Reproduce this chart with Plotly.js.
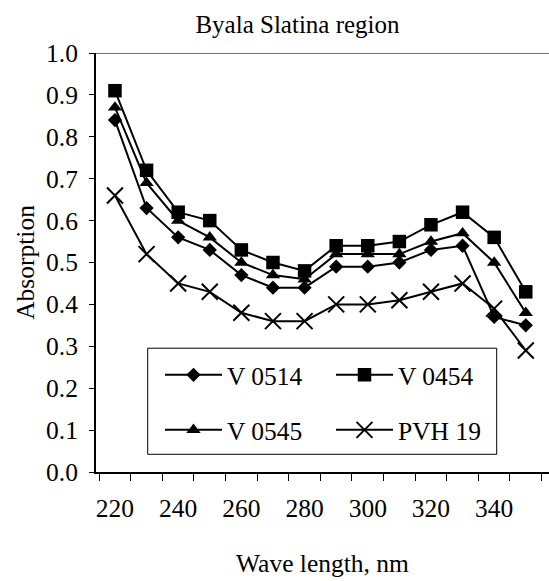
<!DOCTYPE html>
<html>
<head>
<meta charset="utf-8">
<script src="https://cdn.plot.ly/plotly-3.0.1.min.js"></script>
<style>html,body{margin:0;padding:0;background:#fff;}#chart{width:549px;height:581px;}</style>
</head>
<body>
<div id="chart"></div>
<script>
const wavelengths = [220, 230, 240, 250, 260, 270, 280, 290, 300, 310, 320, 330, 340, 350];
const v0514 = [0.84, 0.63, 0.56, 0.53, 0.47, 0.44, 0.44, 0.49, 0.49, 0.50, 0.53, 0.54, 0.37, 0.35];
const v0454 = [0.91, 0.72, 0.62, 0.60, 0.53, 0.50, 0.48, 0.54, 0.54, 0.55, 0.59, 0.62, 0.56, 0.43];
const v0545 = [0.87, 0.69, 0.60, 0.56, 0.50, 0.47, 0.46, 0.52, 0.52, 0.52, 0.55, 0.57, 0.50, 0.38];
const pvh19 = [0.66, 0.52, 0.45, 0.43, 0.38, 0.36, 0.36, 0.40, 0.40, 0.41, 0.43, 0.45, 0.39, 0.29];
const seriesNames = ["V 0514", "V 0454", "V 0545", "PVH 19"];

const FONT = '"Liberation Serif", "Times New Roman", serif';
const FS = 25.5;
const lineStyle = {color: '#000', width: 2};

function tr(name, y, symbol, size, legend, extra) {
  return Object.assign({
    type: 'scatter', mode: 'lines+markers', name: name,
    x: wavelengths, y: y, legend: legend,
    line: lineStyle,
    marker: {symbol: symbol, size: size, color: '#000', line: {color: '#000', width: 0}}
  }, extra || {});
}

const data = [
  tr(seriesNames[0], v0514, 'diamond', 11, 'legend'),
  tr(seriesNames[1], v0454, 'square', 13.5, 'legend'),
  tr(seriesNames[2], v0545, 'triangle-up', 12.5, 'legend2'),
  tr(seriesNames[3], pvh19, 'x-thin', 16, 'legend2', {marker: {symbol: 'x-thin', size: 16, color: '#000', line: {color: '#000', width: 2}}})
];

const legendCommon = {
  orientation: 'h', xref: 'paper', yref: 'paper', xanchor: 'left', yanchor: 'middle',
  bgcolor: 'rgba(0,0,0,0)', borderwidth: 0, font: {family: FONT, size: FS, color: '#000'},
  itemwidth: 57, entrywidth: 99, traceorder: 'normal', itemclick: false
};

const layout = {
  width: 549, height: 581,
  margin: {l: 96, r: 0, t: 53, b: 109.3},
  paper_bgcolor: '#fff', plot_bgcolor: '#fff',
  font: {family: FONT, size: FS, color: '#000'},
  showlegend: true,
  title: {text: 'Byala Slatina region', font: {family: FONT, size: 25, color: '#000'},
          x: 297.5 / 549, xref: 'container', xanchor: 'center', y: 1 - 24 / 581, yref: 'container', yanchor: 'middle'},
  xaxis: {
    range: [214, 357.35], tick0: 220, dtick: 20, ticks: '', showgrid: false, zeroline: false,
    showline: true, linecolor: '#000', linewidth: 2, ticklabelstandoff: 12,
    tickfont: {family: FONT, size: FS, color: '#000'},
    minor: {tick0: 215, dtick: 10, ticks: 'outside', ticklen: 7, tickwidth: 1, tickcolor: '#000', showgrid: false},
    title: {text: 'Wave length, nm', font: {family: FONT, size: FS, color: '#000'}, standoff: 33},
    fixedrange: true
  },
  yaxis: {
    range: [0, 1], dtick: 0.1, tick0: 0, tickformat: '.1f', ticks: 'outside', ticklen: 5, tickwidth: 1, tickcolor: '#000',
    showgrid: false, zeroline: false, showline: true, linecolor: '#000', linewidth: 2,
    tickfont: {family: FONT, size: FS, color: '#000'}, ticklabelstandoff: 6,
    title: {text: 'Absorption', font: {family: FONT, size: FS, color: '#000'}, standoff: 4},
    fixedrange: true
  },
  legend: Object.assign({}, legendCommon, {x: (160 - 96) / 453, y: (471.7 - 375) / 418.7}),
  legend2: Object.assign({}, legendCommon, {x: (160 - 96) / 453, y: (471.7 - 430) / 418.7}),
  shapes: [
    {type: 'line', xref: 'paper', yref: 'y', x0: 0, x1: 1, y0: 1, y1: 1, line: {color: '#444', width: 1.5}},
    {type: 'rect', xref: 'paper', yref: 'paper', x0: (147.7 - 96) / 453, x1: (496.7 - 96) / 453,
     y0: (471.7 - 454) / 418.7, y1: (471.7 - 348) / 418.7, line: {color: '#000', width: 1}, fillcolor: '#fff', layer: 'below'}
  ]
};

Plotly.newPlot('chart', data, layout, {displayModeBar: false, staticPlot: true});
</script>
</body>
</html>
